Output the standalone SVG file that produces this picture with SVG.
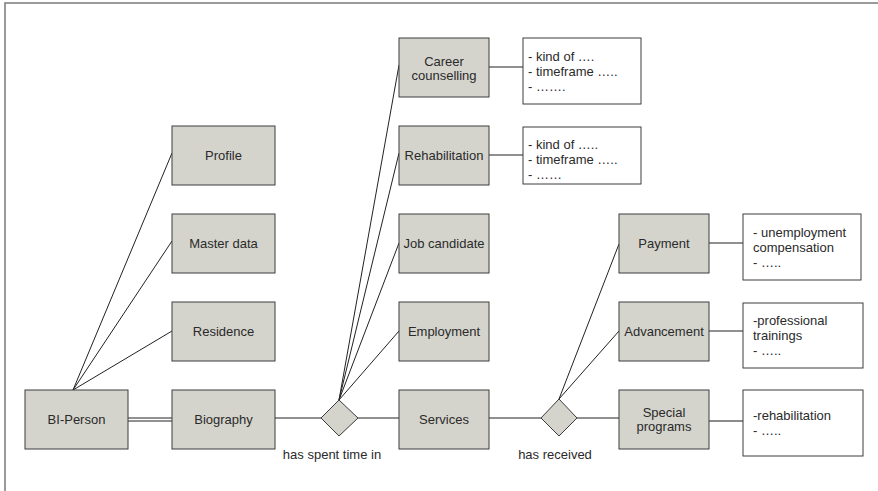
<svg xmlns="http://www.w3.org/2000/svg" width="878" height="491" viewBox="0 0 878 491">
  <style>
    .frame { fill: #ffffff; stroke: #7a7a7a; stroke-width: 1.5; }
    .ent { fill: #d4d4cc; stroke: #3c3c3c; stroke-width: 1; }
    .rel { fill: #d4d4cc; stroke: #3c3c3c; stroke-width: 1; }
    .note { fill: #ffffff; stroke: #3c3c3c; stroke-width: 1; }
    .lbl { font-family: "Liberation Sans", Arial, sans-serif; font-size: 13px; fill: #2a2a2a; text-anchor: middle; }
    .txt { font-family: "Liberation Sans", Arial, sans-serif; font-size: 13px; fill: #2a2a2a; }
    .ln { stroke: #222222; stroke-width: 1; fill: none; }
  </style>

  <rect class="frame" x="5" y="3" width="890" height="500"/>

  <g id="connectors">
    <!-- BI-Person to its attributes -->
    <line class="ln" x1="73" y1="390" x2="172" y2="153"/>
    <line class="ln" x1="73" y1="390" x2="172" y2="241"/>
    <line class="ln" x1="73" y1="390" x2="172" y2="331"/>
    <!-- BI-Person = Biography (double line) -->
    <line class="ln" x1="126" y1="418" x2="172" y2="418"/>
    <line class="ln" x1="126" y1="421" x2="172" y2="421"/>
    <!-- Biography - has spent time in - Services -->
    <line class="ln" x1="275" y1="418" x2="321" y2="418"/>
    <line class="ln" x1="358" y1="418" x2="399" y2="418"/>
    <!-- has spent time in to subtypes -->
    <line class="ln" x1="339" y1="400" x2="399" y2="65"/>
    <line class="ln" x1="339" y1="400" x2="399" y2="153"/>
    <line class="ln" x1="339" y1="400" x2="399" y2="243"/>
    <line class="ln" x1="339" y1="400" x2="399" y2="331"/>
    <!-- Services - has received - Special programs -->
    <line class="ln" x1="489" y1="418" x2="541" y2="418"/>
    <line class="ln" x1="577" y1="418" x2="619" y2="418"/>
    <!-- has received to subtypes -->
    <line class="ln" x1="559" y1="399" x2="619" y2="244"/>
    <line class="ln" x1="559" y1="399" x2="619" y2="331"/>
    <!-- entity to note -->
    <line class="ln" x1="489" y1="67" x2="523" y2="67"/>
    <line class="ln" x1="489" y1="155" x2="523" y2="155"/>
    <line class="ln" x1="709" y1="243" x2="743" y2="243"/>
    <line class="ln" x1="709" y1="331" x2="743" y2="331"/>
    <line x1="709" y1="421" x2="743" y2="421" stroke="#666666" stroke-width="1.5"/>
  </g>

  <g id="bi-person">
    <rect class="ent" x="25" y="390" width="103" height="59"/>
    <text class="lbl" x="76.5" y="424">BI-Person</text>
  </g>
  <g id="profile">
    <rect class="ent" x="172" y="126" width="103" height="59"/>
    <text class="lbl" x="223.5" y="160">Profile</text>
  </g>
  <g id="master-data">
    <rect class="ent" x="172" y="214" width="103" height="59"/>
    <text class="lbl" x="223.5" y="248">Master data</text>
  </g>
  <g id="residence">
    <rect class="ent" x="172" y="302" width="103" height="59"/>
    <text class="lbl" x="223.5" y="336">Residence</text>
  </g>
  <g id="biography">
    <rect class="ent" x="172" y="390" width="103" height="59"/>
    <text class="lbl" x="223.5" y="424">Biography</text>
  </g>

  <g id="has-spent-time-in">
    <polygon class="rel" points="339,400 358,418 339,436 321,418"/>
    <text class="lbl" x="332" y="459">has spent time in</text>
  </g>

  <g id="career-counselling">
    <rect class="ent" x="399" y="38" width="90" height="59"/>
    <text class="lbl" x="444" y="66">Career</text>
    <text class="lbl" x="444" y="80">counselling</text>
  </g>
  <g id="rehabilitation">
    <rect class="ent" x="399" y="126" width="90" height="59"/>
    <text class="lbl" x="444" y="160">Rehabilitation</text>
  </g>
  <g id="job-candidate">
    <rect class="ent" x="399" y="214" width="90" height="59"/>
    <text class="lbl" x="444" y="248">Job candidate</text>
  </g>
  <g id="employment">
    <rect class="ent" x="399" y="302" width="90" height="59"/>
    <text class="lbl" x="444" y="336">Employment</text>
  </g>
  <g id="services">
    <rect class="ent" x="399" y="390" width="90" height="59"/>
    <text class="lbl" x="444" y="424">Services</text>
  </g>

  <g id="note-career">
    <rect class="note" x="523" y="38" width="118" height="66"/>
    <text class="txt" x="528" y="61">- kind of ….</text>
    <text class="txt" x="528" y="76">- timeframe …..</text>
    <text class="txt" x="528" y="91">- …….</text>
  </g>
  <g id="note-rehabilitation">
    <rect class="note" x="523" y="127" width="118" height="57"/>
    <text class="txt" x="528" y="149">- kind of …..</text>
    <text class="txt" x="528" y="164">- timeframe …..</text>
    <text class="txt" x="528" y="179">- ……</text>
  </g>

  <g id="has-received">
    <polygon class="rel" points="559,399 577,418 559,436 541,418"/>
    <text class="lbl" x="555" y="459">has received</text>
  </g>

  <g id="payment">
    <rect class="ent" x="619" y="214" width="90" height="59"/>
    <text class="lbl" x="664" y="248">Payment</text>
  </g>
  <g id="advancement">
    <rect class="ent" x="619" y="302" width="90" height="59"/>
    <text class="lbl" x="664" y="336">Advancement</text>
  </g>
  <g id="special-programs">
    <rect class="ent" x="619" y="390" width="90" height="59"/>
    <text class="lbl" x="664" y="417">Special</text>
    <text class="lbl" x="664" y="431">programs</text>
  </g>

  <g id="note-payment">
    <rect class="note" x="743" y="214" width="118" height="66"/>
    <text class="txt" x="753" y="237">- unemployment</text>
    <text class="txt" x="753" y="252">compensation</text>
    <text class="txt" x="753" y="267">- …..</text>
  </g>
  <g id="note-advancement">
    <rect class="note" x="743" y="303" width="120" height="65"/>
    <text class="txt" x="753" y="325">-professional</text>
    <text class="txt" x="753" y="340">trainings</text>
    <text class="txt" x="753" y="355">- …..</text>
  </g>
  <g id="note-special">
    <rect class="note" x="743" y="390" width="120" height="66"/>
    <text class="txt" x="753" y="420">-rehabilitation</text>
    <text class="txt" x="753" y="435">- …..</text>
  </g>
</svg>
